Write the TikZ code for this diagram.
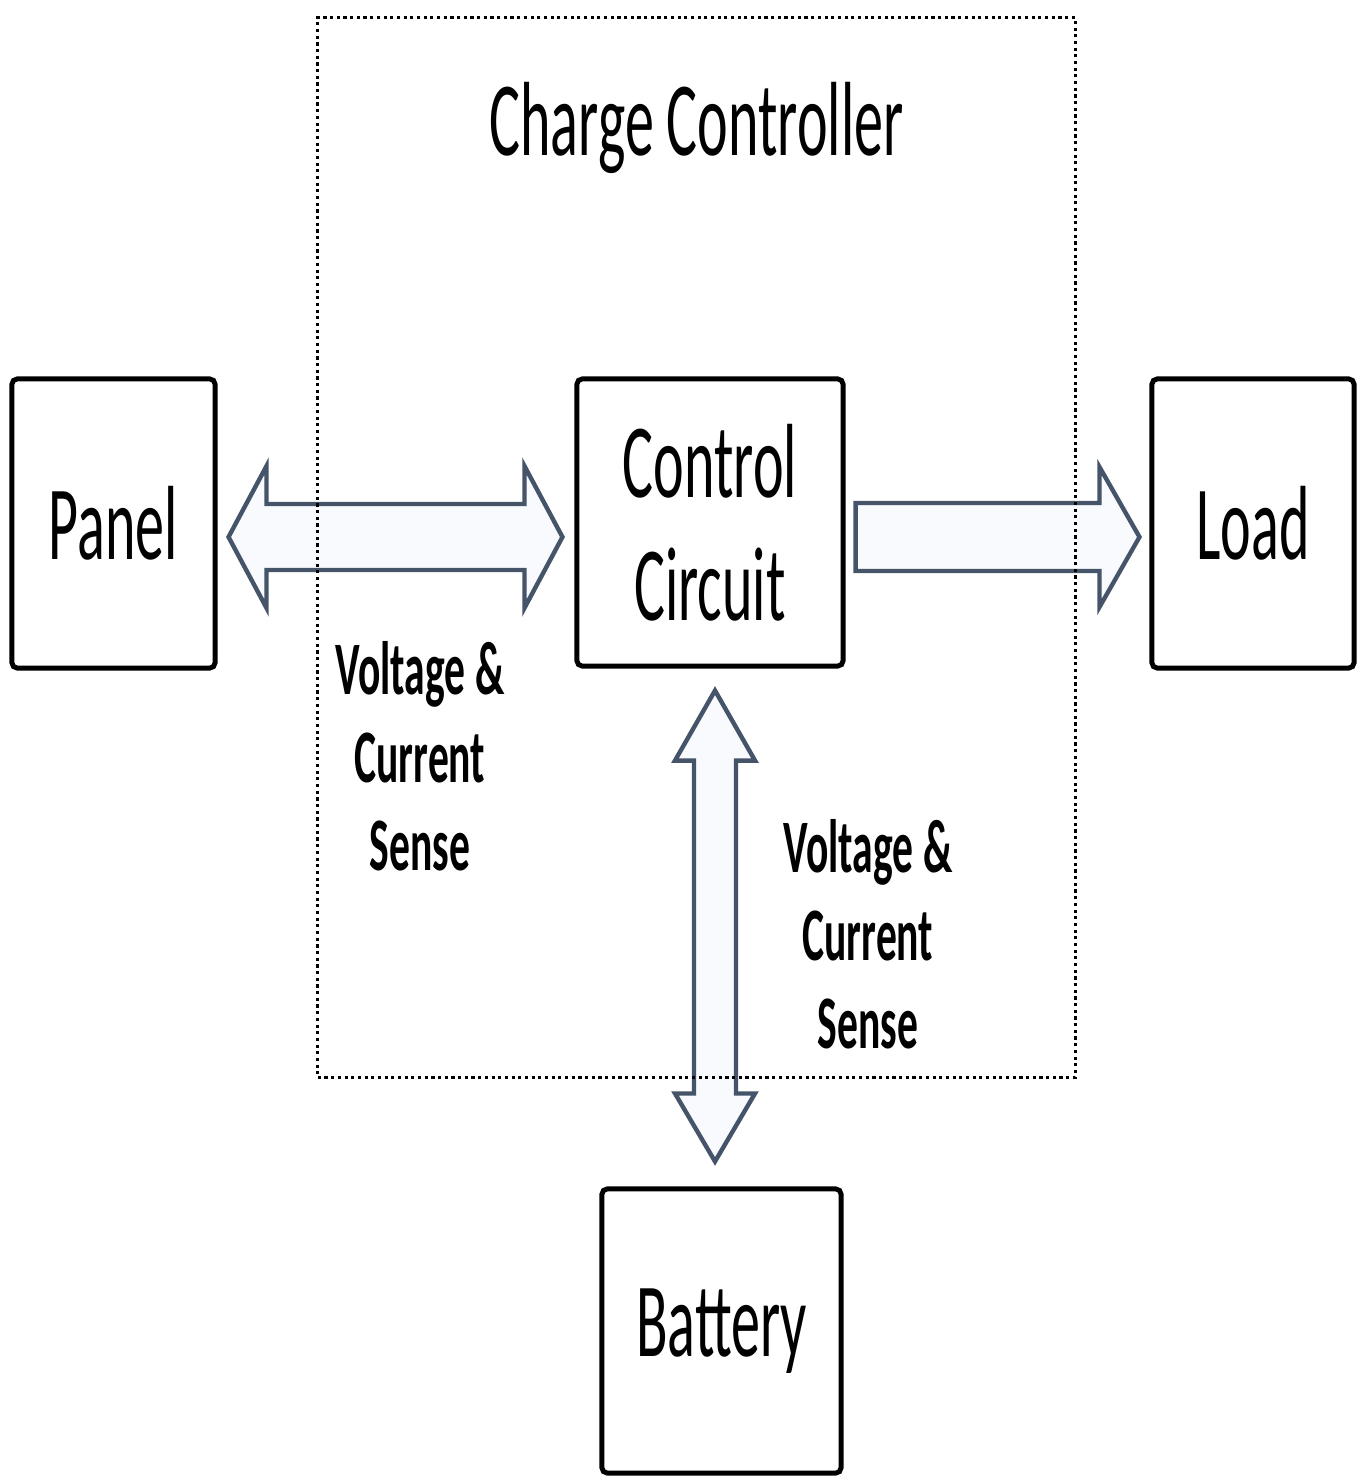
\documentclass[tikz,border=0pt]{standalone}
\usepackage{fontspec}
\setmainfont{Carlito}[FakeStretch=0.55]
\usetikzlibrary{calc,positioning}
\definecolor{arrowedge}{HTML}{46546A}
\definecolor{arrowfill}{HTML}{F8FAFD}

\begin{document}
\begin{tikzpicture}[x=0.01cm, y=-0.01cm,
  block/.style={draw, line width=1.4pt, rounded corners=1.5pt, align=center, inner sep=0pt,
    font=\fontsize{30}{35}\selectfont},
  sense/.style={align=center, font=\fontsize{21.5}{25}\selectfont\bfseries},
  fatarrow/.style={draw=arrowedge, fill=arrowfill, line width=1.25pt, line join=miter},
  frame/.style={draw, line width=0.9pt, dash pattern=on 0.9pt off 1pt, inner sep=0pt}]

  \useasboundingbox (0,0) rectangle (1366,1482);

  % Blocks
  \node[block, minimum width=2.03cm, minimum height=2.89cm] (panel) at (113.5,523.5) {\raisebox{-0.04cm}{Panel}};
  \node[block, minimum width=2.66cm, minimum height=2.87cm] (ctrl) at (710,522.5) {Control\\Circuit};
  \node[block, minimum width=2.02cm, minimum height=2.89cm] (load) at (1253,523.5) {\raisebox{-0.04cm}{Load}};
  \node[block, minimum width=2.39cm, minimum height=2.84cm] (battery) at (721.5,1331) {\raisebox{-0.1cm}{Battery}};

  % Arrow end points
  \coordinate (pcL) at ($(panel.east)+(11,13.5)$);
  \coordinate (pcR) at ($(ctrl.west)+(-12,14.5)$);
  \coordinate (clT) at ($(ctrl.east)+(10,14.5)$);
  \coordinate (clH) at ($(load.west)+(-10,13.5)$);
  \coordinate (cbT) at ($(ctrl.south)+(5,22)$);
  \coordinate (cbB) at ($(battery.north)+(-6.5,-25)$);

  % Panel <-> Control Circuit
  \draw[fatarrow] (pcL) -- ++(38,-71) -- ++(0,38) -- ($(pcR)+(-38,-33)$) -- ++(0,-38) -- (pcR)
    -- ++(-38,71) -- ++(0,-38) -- ($(pcL)+(38,33)$) -- ++(0,38) -- cycle;

  % Control Circuit -> Load
  \draw[fatarrow] (clT) -- ++(0,-34) -- ($(clH)+(-40,-34)$) -- ++(0,-36) -- (clH)
    -- ++(-40,70) -- ++(0,-36) -- ($(clT)+(0,34)$) -- cycle;

  % Control Circuit <-> Battery
  \draw[fatarrow] (cbT) -- ++(40,70) -- ++(-19,0) -- ($(cbB)+(21,-68)$) -- ++(19,0) -- (cbB)
    -- ++(-40,-68) -- ++(19,0) -- ($(cbT)+(-21,70)$) -- ++(-19,0) -- cycle;

  % Charge controller frame
  \node[frame, minimum width=7.57cm, minimum height=10.59cm] (charge) at (696.5,547.5) {};
  \node[font=\fontsize{30}{35}\selectfont] (title) at ($(charge.north)+(0,112)$) {Charge Controller};

  % Sense labels
  \node[sense] (pvsense) at (420,756) {Voltage \&\\Current\\Sense};
  \node[sense] (bvsense) at (868,934) {Voltage \&\\Current\\Sense};
\end{tikzpicture}
\end{document}
